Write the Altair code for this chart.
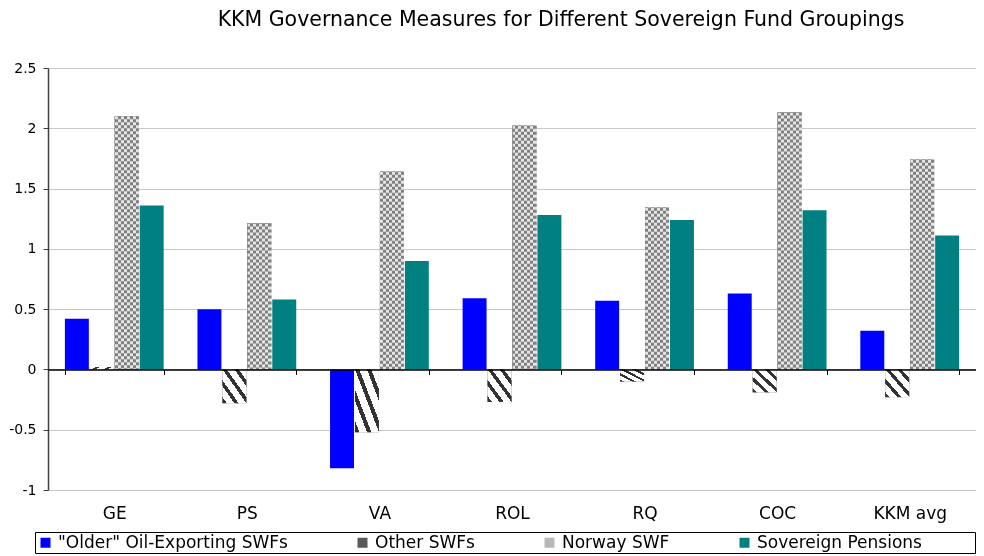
import altair as alt
import pandas as pd

categories = ["GE", "PS", "VA", "ROL", "RQ", "COC", "KKM avg"]
series_names = ['"Older" Oil-Exporting SWFs', "Other SWFs", "Norway SWF", "Sovereign Pensions"]
older = [0.42, 0.50, -0.82, 0.59, 0.57, 0.63, 0.32]
other = [0.02, -0.28, -0.52, -0.27, -0.10, -0.19, -0.23]
norway = [2.10, 1.21, 1.64, 2.02, 1.34, 2.13, 1.74]
pensions = [1.36, 0.58, 0.90, 1.28, 1.24, 1.32, 1.11]
series_colors = ["#0000ff", "#5a5a5a", "#b8b8b8", "#008080"]
y_ticks = [-1, -0.5, 0, 0.5, 1, 1.5, 2, 2.5]

rows = []
for name, vals in zip(series_names, [older, other, norway, pensions]):
    for c, v in zip(categories, vals):
        rows.append({"category": c, "series": name, "value": v})
df = pd.DataFrame(rows)

W, H = 928, 422
FONT = "DejaVu Sans"
zero_offset = -H * 1.0 / 3.5

x_enc = alt.X(
    "category:N", sort=categories, title=None,
    scale=alt.Scale(paddingInner=0.255, paddingOuter=0.1275),
    axis=alt.Axis(orient="bottom", offset=zero_offset, domainColor="black", domainWidth=1.5,
                  tickColor="black", tickSize=5, tickWidth=1, tickBand="extent",
                  labelPadding=131, labelFont=FONT, labelFontSize=17, labelColor="black",
                  labelAngle=0, grid=False, zindex=1),
)
xoff_enc = alt.XOffset("series:N", sort=series_names,
                       scale=alt.Scale(domain=series_names, paddingInner=0.04))
y_enc = alt.Y(
    "value:Q", title=None, stack=None,
    scale=alt.Scale(domain=[-1, 2.5], nice=False, zero=False),
    axis=alt.Axis(values=y_ticks, labelExpr="'' + datum.value", domainColor="#404040",
                  domainWidth=1.5, tickColor="#404040", tickSize=5, labelFont=FONT,
                  labelFontSize=14, labelColor="black", labelPadding=7,
                  gridColor="#c8c8c8", gridWidth=1, zindex=0),
)
y2_enc = alt.Y2(datum=0)

base = alt.Chart(df)

bars = base.mark_bar().encode(
    x=x_enc, xOffset=xoff_enc, y=y_enc, y2=y2_enc,
    color=alt.Color("series:N", sort=series_names,
                    scale=alt.Scale(domain=series_names, range=series_colors),
                    legend=alt.Legend(orient="none", legendX=-13, legendY=464,
                                      direction="horizontal", title="\u2800" * 4,
                                      titleOrient="right", titleFontSize=17, titlePadding=3,
                                      symbolType="square", symbolSize=100, symbolStrokeWidth=0,
                                      labelFont=FONT, labelFontSize=17, labelColor="black",
                                      labelLimit=400, labelOffset=4, columnPadding=66,
                                      padding=2, strokeColor="black", fillColor="white")),
)

# diagonal stripes for "Other SWFs"
N = 4
diag_stops = []
for i in range(N):
    a, b, c = i / N, (i + 0.36) / N, (i + 1) / N
    diag_stops += [{"offset": a, "color": "#333333"}, {"offset": b, "color": "#333333"},
                   {"offset": b, "color": "white"}, {"offset": c, "color": "white"}]
diag_grad = {"gradient": "linear", "x1": 0, "y1": 1, "x2": 1, "y2": 0, "stops": diag_stops}

other_bars = base.mark_bar(fill=diag_grad).encode(
    x=x_enc, xOffset=xoff_enc, y=y_enc, y2=y2_enc
).transform_filter(alt.datum.series == "Other SWFs")

# checker for "Norway SWF"
M = 8
v_stops = []
for i in range(M):
    col = "black" if i % 2 == 0 else "white"
    v_stops += [{"offset": i / M, "color": col}, {"offset": (i + 1) / M, "color": col}]
v_grad = {"gradient": "linear", "x1": 0, "y1": 0, "x2": 1, "y2": 0, "stops": v_stops}

nor_a = base.mark_bar(fill=v_grad).encode(
    x=x_enc, xOffset=xoff_enc, y=y_enc, y2=y2_enc
).transform_filter(alt.datum.series == "Norway SWF")
nor_b = base.mark_rule(stroke="white", strokeWidth=23.9, strokeDash=[3, 3], blend="difference").encode(
    x=x_enc, xOffset=xoff_enc, y=y_enc, y2=y2_enc
).transform_filter(alt.datum.series == "Norway SWF")
nor_c = base.mark_bar(fill="#d5d5d5", fillOpacity=0.6).encode(
    x=x_enc, xOffset=xoff_enc, y=y_enc, y2=y2_enc
).transform_filter(alt.datum.series == "Norway SWF")

chart = alt.layer(bars, other_bars, nor_a, nor_b, nor_c).properties(
    width=W, height=H,
    autosize=alt.AutoSizeParams(type="none"),
    padding={"left": 40, "top": 60, "right": 0, "bottom": 66},
    background="white",
    title=alt.TitleParams("KKM Governance Measures for Different Sovereign Fund Groupings",
                          font=FONT, fontSize=20.5, fontWeight="normal", color="black",
                          anchor="middle", dx=49, offset=31),
).configure_view(strokeWidth=0)

chart.save("out.html", embed_options={"renderer": "svg", "actions": False})
